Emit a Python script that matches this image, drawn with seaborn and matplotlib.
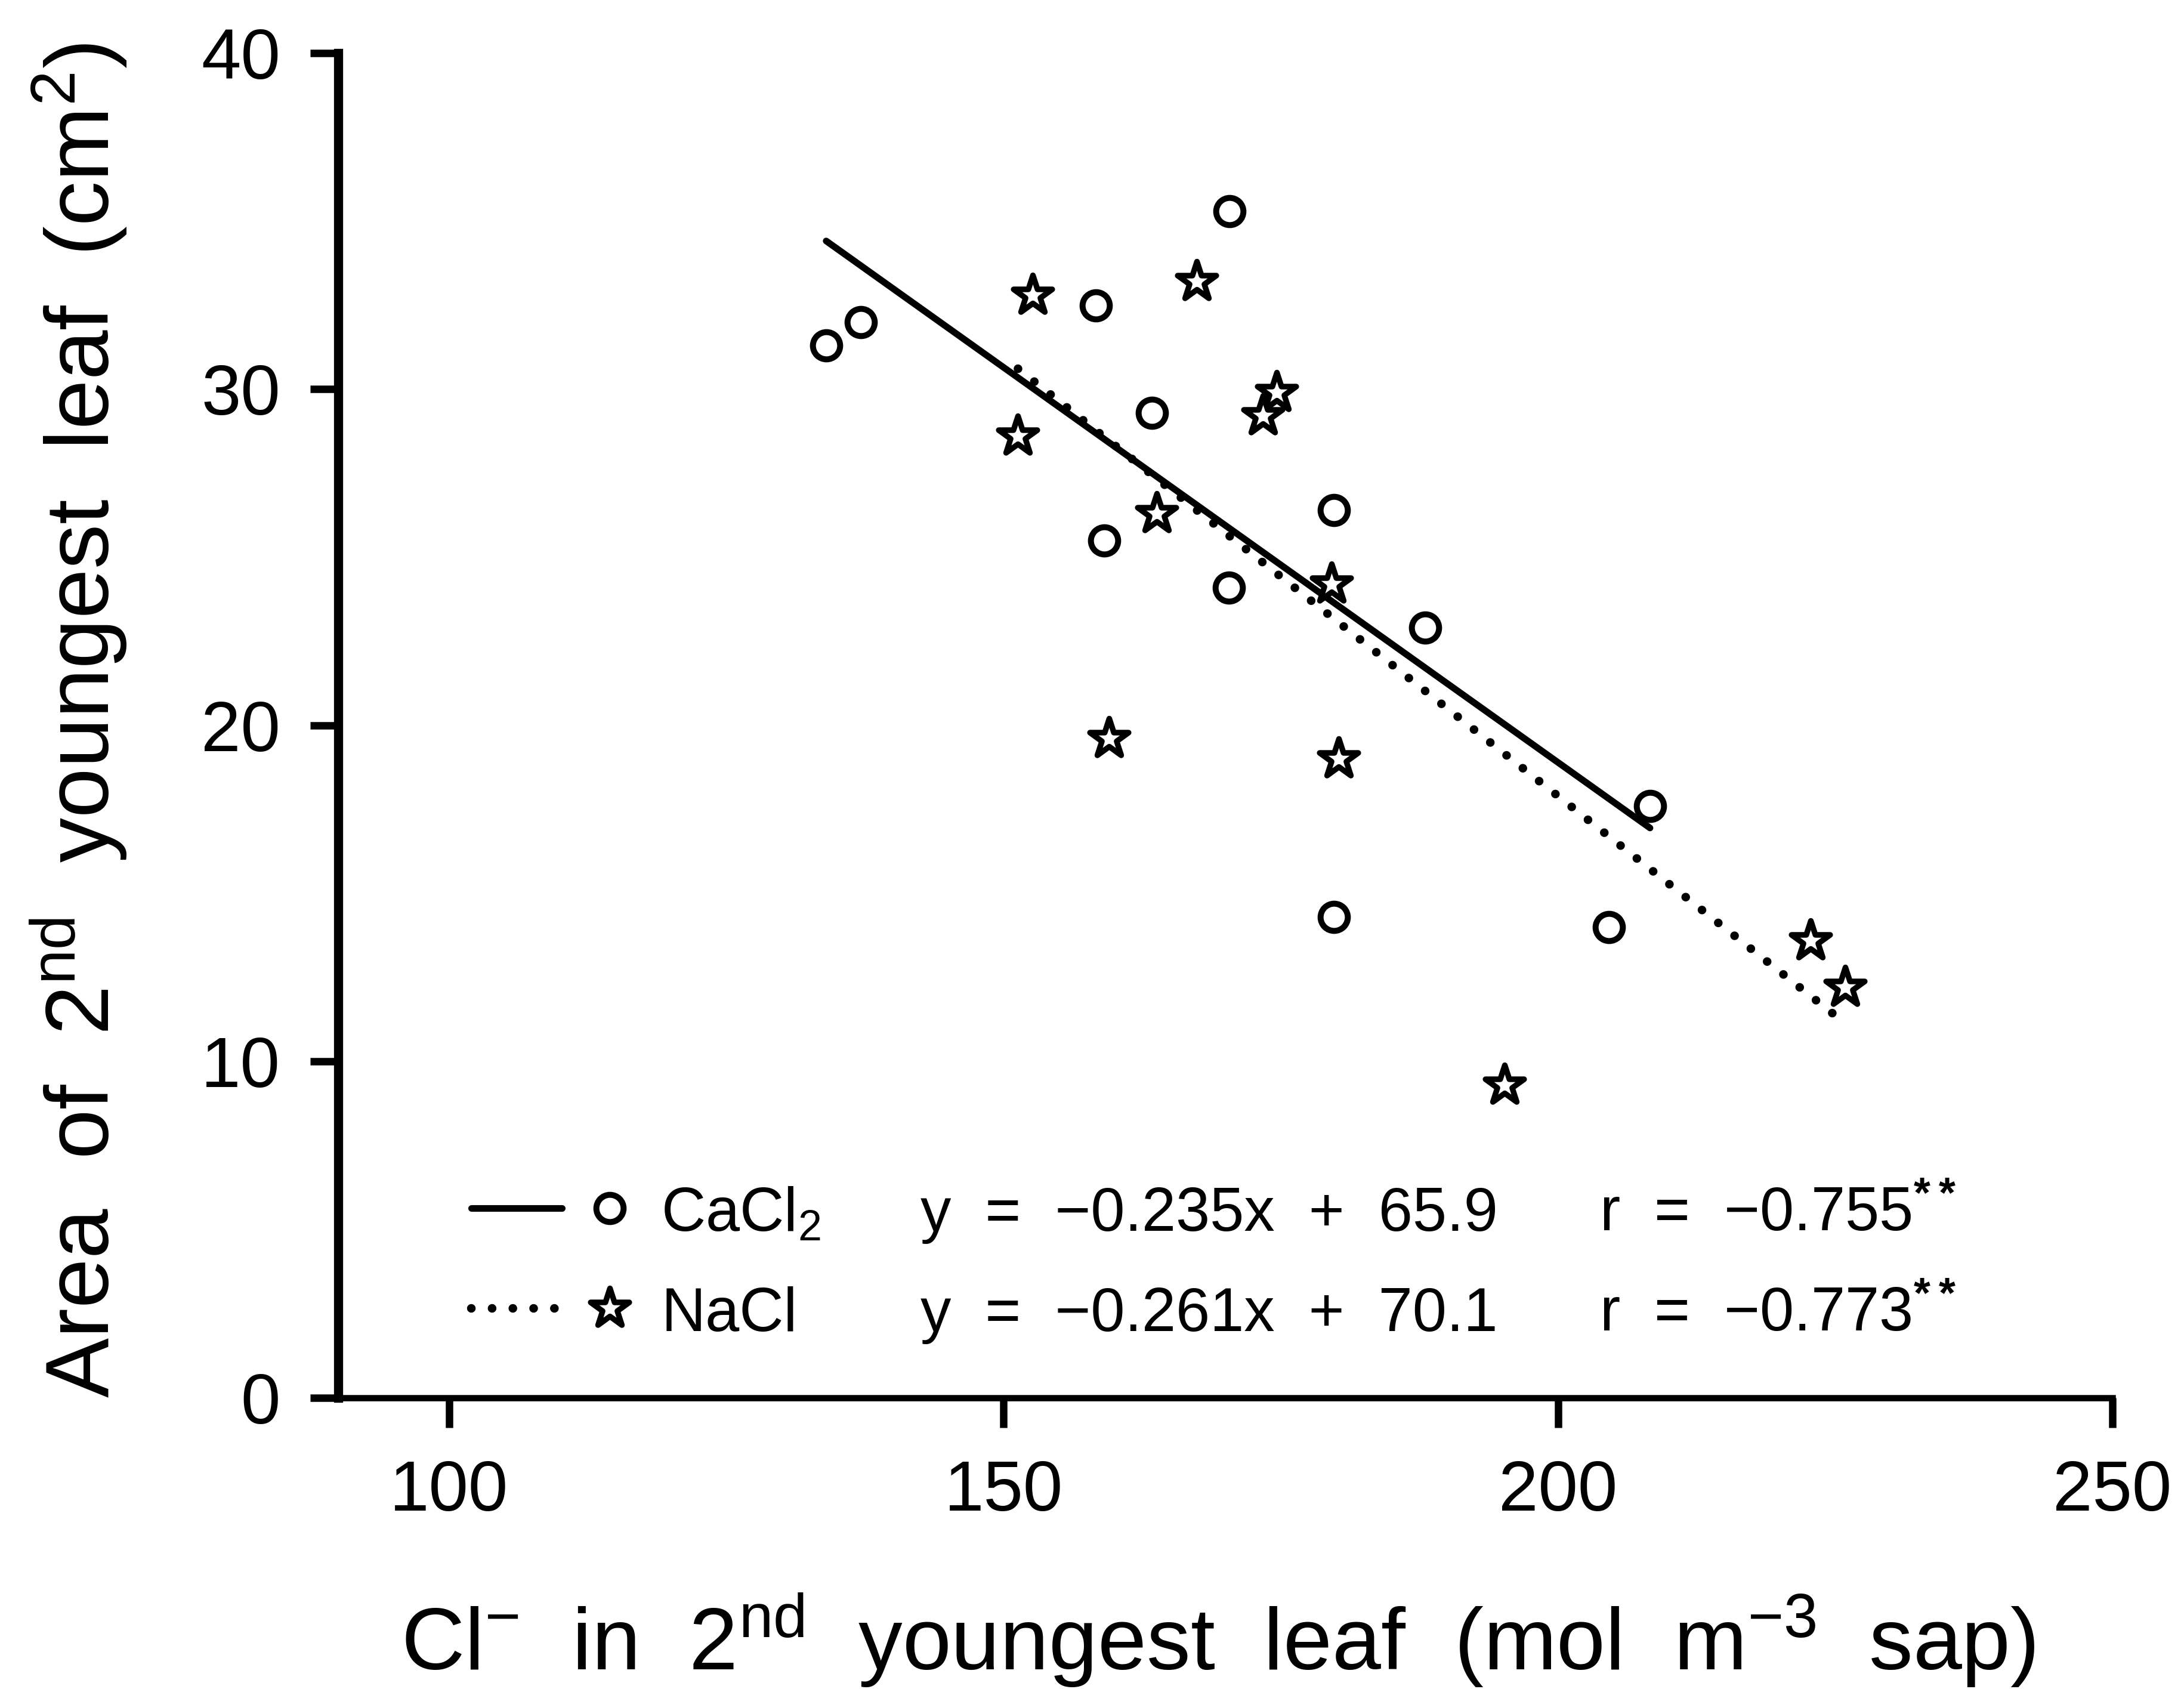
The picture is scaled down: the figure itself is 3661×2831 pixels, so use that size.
import numpy as np
import pandas as pd
import matplotlib
matplotlib.use('Agg')
import matplotlib.pyplot as plt
import seaborn as sns

# data: Cl- in sap (mol m-3) vs leaf area (cm2)
cacl2_cl = [134.0, 137.1, 158.3, 170.4, 163.4, 159.1, 170.3, 179.8, 188.0, 179.8, 208.3, 204.6]
cacl2_area = [31.3, 32.0, 32.5, 35.3, 29.3, 25.5, 24.1, 26.4, 22.9, 14.3, 17.6, 14.0]
nacl_cl = [152.6, 167.4, 151.3, 174.6, 173.4, 163.8, 179.6, 159.5, 180.2, 195.2, 222.8, 225.9]
nacl_area = [32.8, 33.2, 28.6, 29.9, 29.2, 26.3, 24.2, 19.6, 19.0, 9.3, 13.6, 12.2]

# regression given in the figure
slopes = {'CaCl2': -0.235, 'NaCl': -0.261}
intercepts = {'CaCl2': 65.9, 'NaCl': 70.1}
r_values = {'CaCl2': '\u22120.755', 'NaCl': '\u22120.773'}

xticks = [100, 150, 200, 250]
yticks = [0, 10, 20, 30, 40]

df = pd.concat([
    pd.DataFrame({'cl': cacl2_cl, 'area': cacl2_area, 'salt': 'CaCl2'}),
    pd.DataFrame({'cl': nacl_cl, 'area': nacl_area, 'salt': 'NaCl'}),
], ignore_index=True)

# fitted lines over the range of each group
fit_rows = []
for salt, grp in df.groupby('salt'):
    xx = np.array([grp['cl'].min(), grp['cl'].max()])
    fit_rows.append(pd.DataFrame({'cl': xx, 'area': slopes[salt] * xx + intercepts[salt], 'salt': salt}))
fits = pd.concat(fit_rows, ignore_index=True)

sns.set_theme(style='ticks')
plt.rcParams['font.family'] = ['Liberation Sans', 'DejaVu Sans']
plt.rcParams['mathtext.fontset'] = 'custom'
plt.rcParams['mathtext.rm'] = 'Liberation Sans'
plt.rcParams['mathtext.bf'] = 'Liberation Sans:bold'
plt.rcParams['mathtext.default'] = 'regular'
for key in ['text.color', 'axes.labelcolor', 'xtick.color', 'ytick.color', 'axes.edgecolor']:
    plt.rcParams[key] = 'black'

fig = plt.figure(figsize=(18.305, 14.155), dpi=200)
ax = fig.add_axes([0.1549, 0.1724, 0.8123, 0.7962])

circle_kw = dict(marker='o', s=270, color='white', edgecolor='black', linewidth=3.6, zorder=3)
star_kw = dict(marker='*', s=600, color='white', edgecolor='black', linewidth=3.4, zorder=3)

sns.scatterplot(data=df[df['salt'] == 'CaCl2'], x='cl', y='area', ax=ax, legend=False, **circle_kw)
sns.scatterplot(data=df[df['salt'] == 'NaCl'], x='cl', y='area', ax=ax, legend=False, **star_kw)

solid_kw = dict(color='black', linewidth=4.0)
dotted_kw = dict(color='black', linewidth=5.2, linestyle=(0, (0.01, 2.4)), dash_capstyle='round')
sns.lineplot(data=fits[fits['salt'] == 'CaCl2'], x='cl', y='area', ax=ax, **solid_kw)
sns.lineplot(data=fits[fits['salt'] == 'NaCl'], x='cl', y='area', ax=ax, **dotted_kw)

ax.set_xlim(90, 250)
ax.set_ylim(0, 40)
ax.set_xticks(xticks)
ax.set_yticks(yticks)
sns.despine(ax=ax)
ax.spines['left'].set_linewidth(5.5)
ax.spines['bottom'].set_linewidth(3.8)
ax.tick_params(axis='y', direction='out', length=17, width=4.5, pad=18, labelsize=43)
ax.tick_params(axis='x', direction='out', length=18, width=4.5, pad=19, labelsize=43)

ax.set_ylabel('Area  of  2$^{nd}$  youngest  leaf  (cm$^{2}$)', fontsize=54)
ax.yaxis.set_label_coords(-0.118, 0.504)
ax.set_xlabel('Cl$^{-}$  in  2$^{nd}$  youngest  leaf  (mol  m$^{-3}$  sap)', fontsize=53)
ax.xaxis.set_label_coords(0.496, -0.144)
ax.xaxis.label.set_va('top')

# key block inside the axes (axes-fraction layout)
key_rows = {'CaCl2': (0.141, 0.124), 'NaCl': (0.0665, 0.0496)}
names = {'CaCl2': 'CaCl$_{2}$', 'NaCl': 'NaCl'}
txt_kw = dict(transform=ax.transAxes, fontsize=37, va='baseline', ha='left')
for salt, (mid, base) in key_rows.items():
    lkw = solid_kw if salt == 'CaCl2' else dotted_kw
    mkw = circle_kw if salt == 'CaCl2' else star_kw
    ax.plot([0.075, 0.126], [mid, mid], transform=ax.transAxes, clip_on=False, **lkw)
    ax.scatter([0.153], [mid], transform=ax.transAxes, clip_on=False,
               marker=mkw['marker'], s=mkw['s'], facecolor='white', edgecolor='black',
               linewidth=mkw['linewidth'], zorder=3)
    ax.text(0.182, base, names[salt], **txt_kw)
    eq = 'y  =  \u2212%.3fx  +  %.1f' % (abs(slopes[salt]), intercepts[salt])
    ax.text(0.328, base, eq, **txt_kw)
    ax.text(0.711, base, 'r  =  ' + r_values[salt] + r'$^{\mathbf{**}}$', **txt_kw)

fig.savefig('out.png', dpi=200, facecolor='white')
